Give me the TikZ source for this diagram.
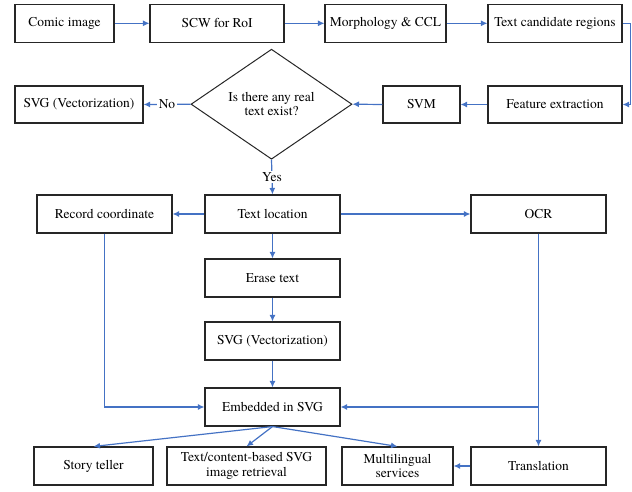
\documentclass[tikz,border=0pt]{standalone}
\usepackage{fontspec}
\setmainfont{texgyretermes-regular.otf}
\usetikzlibrary{arrows.meta,shapes.geometric}
\definecolor{arrblue}{HTML}{4472C4}
\begin{document}
\begin{tikzpicture}[x=1pt,y=-1pt,
  font=\rmfamily\fontsize{13.5}{14.5}\selectfont,
  box/.style={draw=black!85,line width=1.1pt,rectangle,minimum height=38,inner sep=1pt,align=center},
  dec/.style={draw=black!85,line width=1pt,diamond,minimum width=161,minimum height=97,inner sep=0pt,align=center},
  arr/.style={draw=arrblue,line width=1.2pt,-{Latex[length=6.5pt,width=6pt]}},
  lbl/.style={fill=white,inner sep=1.5pt,text=black}]
\useasboundingbox (0,0) rectangle (632,492);
% row 1
\node[box,minimum width=99] (comic) at (64.5,23.3) {Comic image};
\node[box,minimum width=134] (scw) at (217,23.3) {SCW for RoI};
\node[box,minimum width=121] (morph) at (385.5,23.3) {Morphology \& CCL};
\node[box,minimum width=134] (tcr) at (555,23.3) {Text candidate regions};
% row 2
\node[box,minimum width=134,minimum height=37] (fe) at (555,104.5) {Feature extraction};
\node[box,minimum width=77,minimum height=37] (svm) at (421.5,104.5) {SVM};
\node[dec] (dia) at (271.5,104.2) {Is there any real\\text exist?};
\node[box,minimum width=128,minimum height=37] (svgA) at (79,104.5) {SVG (Vectorization)};
% middle
\node[box,minimum width=135] (rec) at (104.5,214) {Record coordinate};
\node[box,minimum width=135] (tloc) at (272.5,214) {Text location};
\node[box,minimum width=135] (ocr) at (538.5,214) {OCR};
\node[box,minimum width=135] (erase) at (272.5,278) {Erase text};
\node[box,minimum width=135] (svgB) at (272.5,341) {SVG (Vectorization)};
\node[box,minimum width=135] (emb) at (272.5,407) {Embedded in SVG};
% bottom row
\node[box,minimum width=119] (story) at (93.5,466) {Story teller};
\node[box,minimum width=159] (retr) at (246.5,466) {Text/content-based SVG\\image retrieval};
\node[box,minimum width=111] (multi) at (397.5,466) {Multilingual\\services};
\node[box,minimum width=135] (trans) at (538.5,466) {Translation};
% connectors
\coordinate (c1) at (630.5,23.3);
\draw[arr] (comic) -- (scw);
\draw[arr] (scw) -- (morph);
\draw[arr] (morph) -- (tcr);
\draw[arr] (tcr.east) -- (c1) |- (fe.east);
\draw[arr] (fe) -- (svm);
\draw[arr] (svm.west) -- (dia.east);
\draw[arr] (dia.west) -- node[lbl]{No} (svgA.east);
\draw[arr] (dia.south) -- node[lbl]{Yes} (tloc.north);
\draw[arr] (tloc) -- (rec);
\draw[arr] (tloc) -- (ocr);
\draw[arr] (tloc) -- (erase);
\draw[arr] (erase) -- (svgB);
\draw[arr] (svgB) -- (emb);
\draw[arr] (rec.south) |- (emb.west);
\draw[arr] (ocr.south) |- (emb.east);
\draw[arr] (ocr.south) -- (trans.north);
\draw[arr] (trans) -- (multi);
\draw[arr] (emb.south) -- (story.north);
\draw[arr] (emb.south) -- (retr.north);
\draw[arr] (emb.south) -- (multi.north);
\end{tikzpicture}
\end{document}
